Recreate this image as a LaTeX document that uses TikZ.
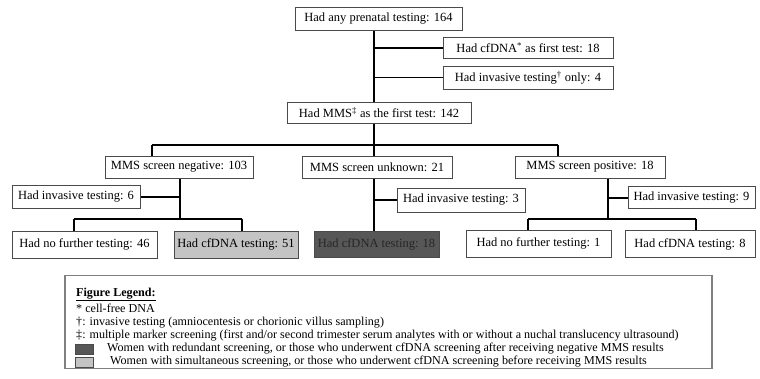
\documentclass[tikz,border=0pt]{standalone}
\usepackage{fontspec}
\setmainfont{Liberation Serif}
\definecolor{boxline}{HTML}{4A4A4A}
\definecolor{lightfill}{HTML}{C4C4C4}
\definecolor{darkfill}{HTML}{575757}
\definecolor{legline}{HTML}{808080}
\begin{document}
\begin{tikzpicture}[x=1pt,y=-1pt,
  box/.style={draw=boxline, line width=1pt, fill=white, inner sep=0pt,
    font=\fontsize{12.5}{14}\selectfont, text=black},
  conn/.style={line width=1.8pt, black},
  legtext/.style={anchor=west, inner sep=0pt, font=\fontsize{12.1}{14}\selectfont},
  swatch/.style={draw=boxline, line width=0.9pt, minimum width=18pt, minimum height=10pt, inner sep=0pt}
]
\useasboundingbox[fill=white] (0,0) rectangle (760,378);

% boxes
\node[box, minimum width=167pt, minimum height=23pt] (top) at (378.5,18.5) {Had any prenatal testing: 164};
\node[box, minimum width=170pt, minimum height=21pt] (cf1) at (528,47.5) {Had cfDNA\textsuperscript{*} as first test: 18};
\node[box, minimum width=170pt, minimum height=23pt] (inv1) at (528,77.5) {Had invasive testing\textsuperscript{†} only: 4};
\node[box, minimum width=184pt, minimum height=21pt] (mms) at (379,112.5) {Had MMS\textsuperscript{‡} as the first test: 142};

\node[box, minimum width=148pt, minimum height=22pt] (neg) at (179,167) {MMS screen negative: 103};
\node[box, minimum width=150pt, minimum height=22pt] (unk) at (377,167) {MMS screen unknown: 21};
\node[box, minimum width=150pt, minimum height=22pt] (pos) at (590,167) {MMS screen positive: 18};

\node[box, minimum width=128pt, minimum height=23pt] (invN) at (76,196.5) {Had invasive testing: 6};
\node[box, minimum width=128pt, minimum height=24pt] (invU) at (461,200) {Had invasive testing: 3};
\node[box, minimum width=127pt, minimum height=22pt] (invP) at (691.5,197.5) {Had invasive testing: 9};

\node[box, minimum width=145pt, minimum height=27pt] (no46) at (84.5,244.5) {Had no further testing: 46};
\node[box, minimum width=124pt, minimum height=27pt, fill=lightfill] (cf51) at (236,244.5) {Had cfDNA testing: 51};
\node[box, minimum width=125pt, minimum height=26pt, fill=darkfill, text=black!85] (cf18) at (376.5,244) {Had cfDNA testing: 18};
\node[box, minimum width=145pt, minimum height=27pt] (no1) at (538.5,243.5) {Had no further testing: 1};
\node[box, minimum width=130pt, minimum height=27pt] (cf8) at (690,244) {Had cfDNA testing: 8};

% junction coordinates
\coordinate (t1) at (374,48);
\coordinate (t2) at (374,77.5);
\coordinate (h0) at (374,145);
\coordinate (hL) at (152,145);
\coordinate (hR) at (558,145);
\coordinate (nj) at (180,197);
\coordinate (nb) at (180,219);
\coordinate (nL) at (74,219);
\coordinate (nR) at (242,219);
\coordinate (uj) at (374,200);
\coordinate (pj) at (608,198);
\coordinate (pb) at (608,219);
\coordinate (pL) at (528,219);
\coordinate (pR) at (696,219);

% connectors
\draw[conn] (top.south -| h0) -- (mms.north -| h0);
\draw[conn] (t1) -- (cf1.west |- t1);
\draw[conn] (t2) -- (inv1.west |- t2);
\draw[conn] (mms.south -| h0) -- (unk.north -| h0);
\draw[conn] (hL) -- (hR);
\draw[conn] (hL) -- (neg.north -| hL);
\draw[conn] (hR) -- (pos.north -| hR);

\draw[conn] (neg.south -| nb) -- (nb);
\draw[conn] (invN.east |- nj) -- (nj);
\draw[conn] (nL) -- (nR);
\draw[conn] (nL) -- (no46.north -| nL);
\draw[conn] (nR) -- (cf51.north -| nR);

\draw[conn] (unk.south -| uj) -- (cf18.north -| uj);
\draw[conn] (uj) -- (invU.west |- uj);

\draw[conn] (pos.south -| pb) -- (pb);
\draw[conn] (pj) -- (invP.west |- pj);
\draw[conn] (pL) -- (pR);
\draw[conn] (pL) -- (no1.north -| pL);
\draw[conn] (pR) -- (cf8.north -| pR);

% legend
\node[draw=legline, line width=1.2pt, minimum width=647pt, minimum height=93pt, inner sep=0pt] (legend) at (388.5,322) {};
\node[legtext] (l1) at (76,294.5) {\underline{\textbf{Figure Legend:}}};
\node[legtext] (l2) at (76,308.5) {* cell-free DNA};
\node[legtext] (l3) at (76,322.5) {†: invasive testing (amniocentesis or chorionic villus sampling)};
\node[legtext] (l4) at (76,336) {‡: multiple marker screening (first and/or second trimester serum analytes with or without a nuchal translucency ultrasound)};
\node[swatch, fill=darkfill] (sw1) at (84,349) {};
\node[swatch, fill=lightfill] (sw2) at (84,362) {};
\node[legtext] (l5) at (107,349) {Women with redundant screening, or those who underwent cfDNA screening after receiving negative MMS results};
\node[legtext] (l6) at (110,362) {Women with simultaneous screening, or those who underwent cfDNA screening before receiving MMS results};
\end{tikzpicture}
\end{document}
